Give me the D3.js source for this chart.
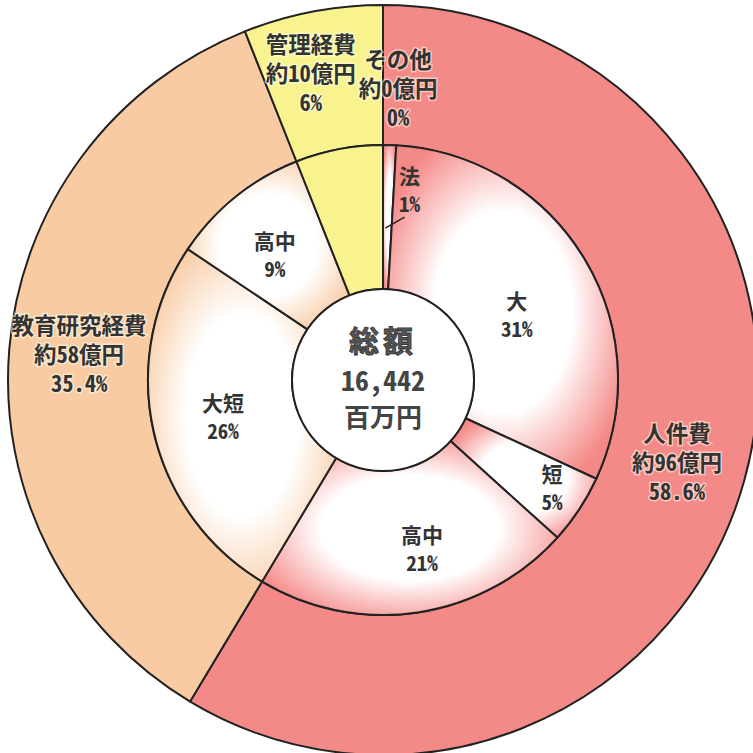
<!DOCTYPE html>
<html><head><meta charset="utf-8">
<script src="https://cdn.jsdelivr.net/npm/d3@7"></script>
<style>
html,body{margin:0;padding:0;background:#fff;overflow:hidden;}
svg{display:block;}
text{font-family:"Noto Sans CJK JP","Noto Sans",sans-serif;font-feature-settings:"hwid" 1;}
</style></head><body>
<svg id="chart" width="753" height="753"></svg>
<script>
// ---- data ----
const outerCategories = ["人件費","教育研究経費","管理経費","その他"];
const outerValues = [58.6, 35.4, 6.0, 0.0];
const outerAmountLabels = ["約96億円","約58億円","約10億円","約0億円"];
const outerPercentLabels = ["58.6%","35.4%","6%","0%"];

const innerCategories = ["法","大","短","高中","大短","高中",""];
const innerValues = [0.9, 31.0, 4.8, 21.9, 25.8, 9.6, 6.0];
const innerParents = [0,0,0,0,1,1,2];
const innerPercentLabels = ["1%","31%","5%","21%","26%","9%",""];

const totalTitle = "総額";
const totalValue = "16,442";
const totalUnit = "百万円";

// ---- drawing ----
const svg = d3.select("#chart");
const cx = 383, cy = 380;
const rCenter = 91, rMid = 235, rOuter = 375;
const groupColors = ["#f48a88","#f8cba3","#f8f38e","#cccccc"];
const stroke = "#222";

const defs = svg.append("defs");
[0,1].forEach(i => {
  const g = defs.append("radialGradient").attr("id","grad"+i)
    .attr("cx","50%").attr("cy","50%").attr("r","58%");
  g.append("stop").attr("offset","0%").attr("stop-color","#fff");
  g.append("stop").attr("offset","52%").attr("stop-color","#fff");
  g.append("stop").attr("offset","100%").attr("stop-color",groupColors[i]);
});

const pie = d3.pie().sort(null).value(d => d).startAngle(0).endAngle(2*Math.PI);
const outerArcs = pie(outerValues);
const innerArcs = pie(innerValues);

const g = svg.append("g").attr("transform",`translate(${cx},${cy})`);

const outerArc = d3.arc().innerRadius(rMid).outerRadius(rOuter);
const innerArc = d3.arc().innerRadius(rCenter).outerRadius(rMid);

g.selectAll("path.outer").data(outerArcs).join("path")
  .attr("class","outer")
  .attr("d", outerArc)
  .attr("fill",(d,i)=>groupColors[i])
  .attr("stroke",stroke).attr("stroke-width",2).attr("stroke-linejoin","round");

g.selectAll("path.inner").data(innerArcs).join("path")
  .attr("class","inner")
  .attr("d", innerArc)
  .attr("fill",(d,i)=> innerParents[i] < 2 ? `url(#grad${innerParents[i]})` : groupColors[innerParents[i]])
  .attr("stroke",stroke).attr("stroke-width",2).attr("stroke-linejoin","round");

// center circle
g.append("circle").attr("r",rCenter).attr("fill","#fff").attr("stroke",stroke).attr("stroke-width",2);

// outer labels
const outerLabelArc = d3.arc().innerRadius(305).outerRadius(305);
const outerNudge = [[0,0],[0,-2],[-15,-8],[15,12]];
outerArcs.forEach((d,i) => {
  const [x,y] = outerLabelArc.centroid(d);
  const px = x + outerNudge[i][0], py = y + outerNudge[i][1];
  const lines = [outerCategories[i], outerAmountLabels[i], outerPercentLabels[i]];
  lines.forEach((t,k) => {
    g.append("text").attr("x",px).attr("y",py + (k-1)*29)
      .attr("text-anchor","middle").attr("dominant-baseline","central")
      .attr("font-size",22.5).attr("font-weight","bold")
      .attr("fill","#333")
      .attr("stroke","rgba(255,255,240,0.55)").attr("stroke-width",3)
      .attr("paint-order","stroke")
      .text(t);
  });
});

// inner labels
const innerLabelArc = d3.arc().innerRadius(163).outerRadius(163);
const innerNudge = [[22,-28],[-6,18],[33,17],[15,7],[-1,0],[-6,1],[0,0]];
innerArcs.forEach((d,i) => {
  if (!innerCategories[i]) return;
  const [x,y] = innerLabelArc.centroid(d);
  const px = x + innerNudge[i][0], py = y + innerNudge[i][1];
  [innerCategories[i], innerPercentLabels[i]].forEach((t,k) => {
    g.append("text").attr("x",px).attr("y",py + (k===0?-14:14))
      .attr("text-anchor","middle").attr("dominant-baseline","central")
      .attr("font-size",21).attr("font-weight",600)
      .attr("fill","#333")
      .text(t);
  });
  if (i === 0) {
    const a = (d.startAngle + d.endAngle)/2;
    const ex = Math.sin(a)*152, ey = -Math.cos(a)*152;
    g.append("line").attr("x1",px-5).attr("y1",py+28).attr("x2",ex-2).attr("y2",ey)
      .attr("stroke",stroke).attr("stroke-width",1.5);
  }
});

// center text
g.append("text").attr("x",0).attr("y",-41).attr("text-anchor","middle").attr("dominant-baseline","central")
  .attr("font-size",30).attr("font-weight","bold").attr("letter-spacing",4).attr("fill","#555")
  .attr("stroke","#333").attr("stroke-width",0.8).text(totalTitle);
g.append("text").attr("x",0).attr("y",-1).attr("text-anchor","middle").attr("dominant-baseline","central")
  .attr("font-size",28).attr("font-weight","bold").attr("fill","#444").text(totalValue);
g.append("text").attr("x",0).attr("y",35).attr("text-anchor","middle").attr("dominant-baseline","central")
  .attr("font-size",26).attr("font-weight","bold").attr("fill","#444").text(totalUnit);
</script>
</body></html>
